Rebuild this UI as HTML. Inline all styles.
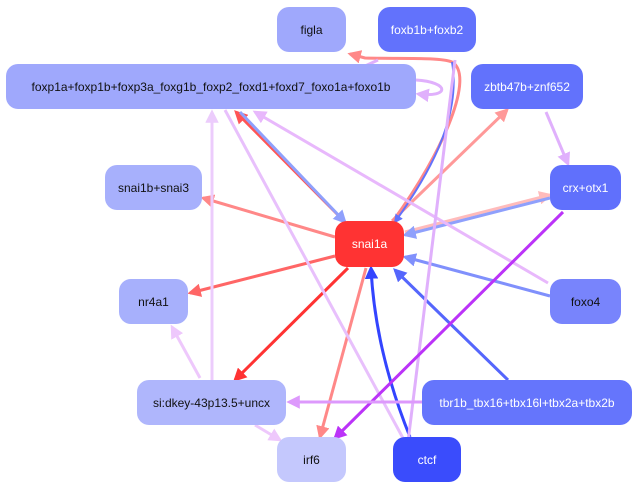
<!DOCTYPE html>
<html><head><style>
html,body{margin:0;padding:0;background:#fff;}
.n{position:absolute;border-radius:12px;display:flex;align-items:center;justify-content:center;font-family:"Liberation Sans",sans-serif;font-size:12px;color:#111;}
.w{color:#fff;}
</style></head><body>
<div style="position:relative;width:639px;height:490px;overflow:hidden;">
<svg width="639" height="490" style="position:absolute;left:0;top:0" fill="none" stroke-width="3">
<defs>
<marker id="a" viewBox="0 0 10 10" refX="8" refY="5" markerWidth="4.5" markerHeight="4.5" orient="auto-start-reverse" markerUnits="strokeWidth"><path d="M0,0L10,5L0,10z" fill="context-stroke" stroke="none"/></marker>
</defs>
<path d="M345,222 L236,112" stroke="#f55" marker-end="url(#a)"/>
<path d="M240,112 L345,222" stroke="#8fa0fc" marker-end="url(#a)"/>
<path d="M335,237 L203,198" stroke="#f88" marker-end="url(#a)"/>
<path d="M335,256 L190,293" stroke="#f66" marker-end="url(#a)"/>
<path d="M348,268 L235,380" stroke="#f33" marker-end="url(#a)"/>
<path d="M366,268 L320,437" stroke="#f88" marker-end="url(#a)"/>
<path d="M410,437 Q375,350 371,268" stroke="#3344ff" marker-end="url(#a)"/>
<path d="M508,380 L395,270" stroke="#5566fc" marker-end="url(#a)"/>
<path d="M550,296 L405,257" stroke="#8090fc" marker-end="url(#a)"/>
<path d="M405,232 L550,195" stroke="#fbb" marker-end="url(#a)"/>
<path d="M550,198 L405,235" stroke="#8fa0fc" marker-end="url(#a)"/>
<path d="M392,221 L507,110" stroke="#f99" marker-end="url(#a)"/>
<path d="M393,221 C445,150 475,75 452,62 C440,57 400,59 365,58 L350,54" stroke="#f88" marker-end="url(#a)"/>
<path d="M452,62 C462,120 425,180 395,222" stroke="#6272fc" stroke-width="2" marker-end="url(#a)"/>
<path d="M378,60 L335,80" stroke="#e0b0fc" marker-end="url(#a)"/>
<path d="M416,80 C450,82 450,98 418,94" stroke="#e0b0fc" marker-end="url(#a)"/>
<path d="M548,283 L255,112" stroke="#e8b8fc" marker-end="url(#a)"/>
<path d="M225,110 L404,440" stroke="#e8c0fc"/>
<path d="M212,380 L212,112" stroke="#ecccfc" marker-end="url(#a)"/>
<path d="M455,60 L408,442" stroke="#e0b0fc"/>
<path d="M546,112 L568,164" stroke="#e0b0fc" marker-end="url(#a)"/>
<path d="M563,212 L335,438" stroke="#bb33f8" marker-end="url(#a)"/>
<path d="M422,402 L289,402" stroke="#dd99fc" marker-end="url(#a)"/>
<path d="M200,378 L172,327" stroke="#eec8fc" marker-end="url(#a)"/>
<path d="M255,425 L280,440" stroke="#eec8fc" marker-end="url(#a)"/>
</svg>
<div class="n" style="left:277px;top:7px;width:69px;height:45px;background:#9fa8fc">figla</div>
<div class="n w" style="left:378px;top:7px;width:98px;height:45px;background:#6272fc">foxb1b+foxb2</div>
<div class="n" style="left:6px;top:64px;width:410px;height:45px;background:#9fa8fc">foxp1a+foxp1b+foxp3a_foxg1b_foxp2_foxd1+foxd7_foxo1a+foxo1b</div>
<div class="n w" style="left:471px;top:64px;width:112px;height:45px;background:#6272fc">zbtb47b+znf652</div>
<div class="n" style="left:105px;top:165px;width:97px;height:45px;background:#a7b0fc">snai1b+snai3</div>
<div class="n w" style="left:550px;top:165px;width:71px;height:45px;background:#6070fc">crx+otx1</div>
<div class="n w" style="left:335px;top:221px;width:69px;height:46px;background:#ff3333">snai1a</div>
<div class="n" style="left:119px;top:279px;width:69px;height:45px;background:#a7b0fc">nr4a1</div>
<div class="n" style="left:550px;top:279px;width:71px;height:45px;background:#7884fc">foxo4</div>
<div class="n" style="left:137px;top:380px;width:149px;height:45px;background:#afb6fc">si:dkey-43p13.5+uncx</div>
<div class="n w" style="left:422px;top:380px;width:210px;height:45px;background:#6575fc">tbr1b_tbx16+tbx16l+tbx2a+tbx2b</div>
<div class="n" style="left:277px;top:437px;width:69px;height:45px;background:#c4c8fd">irf6</div>
<div class="n w" style="left:393px;top:437px;width:68px;height:45px;background:#3a4cfc">ctcf</div>
</div>
</body></html>
